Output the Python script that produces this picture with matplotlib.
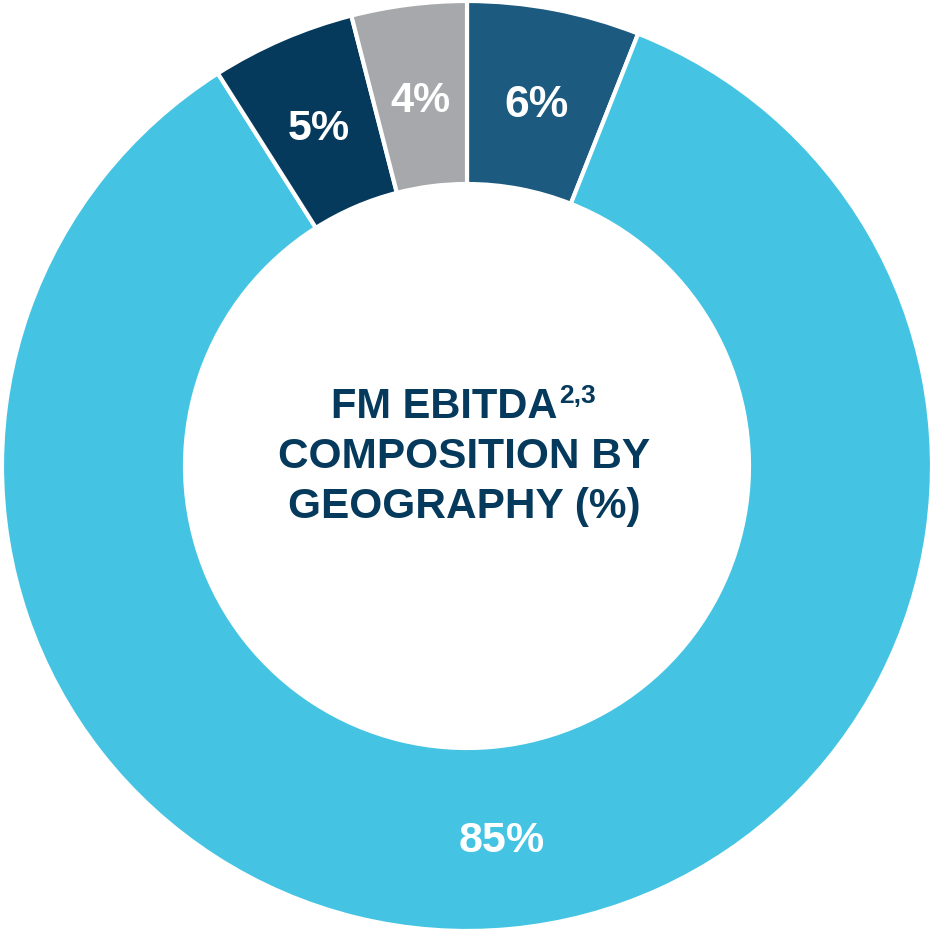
import matplotlib
matplotlib.use("Agg")
import matplotlib.pyplot as plt

plt.rcParams['font.family'] = ['Liberation Sans', 'DejaVu Sans']

# EBITDA share by geography, clockwise from 12 o'clock
regions = ["Region A", "Region B", "Region C", "Region D"]
shares = [6, 85, 5, 4]
colors = ["#1C5A80", "#44C4E2", "#053A5C", "#A7A8AB"]
label_sizes = [32, 31, 31, 30]

title_lines = ["COMPOSITION BY", "GEOGRAPHY (%)"]
title_head = "FM EBITDA"
title_sup = "2,3"
navy = "#053A5C"

W, H = 943, 931
cx, cy, R = 467, 466, 465

fig = plt.figure(figsize=(W / 100, H / 100), dpi=100)
ax = fig.add_axes([0, 0, 1, 1])

wedges, texts, autotexts = ax.pie(
    shares, colors=colors, startangle=90, counterclock=False, radius=1.0,
    wedgeprops=dict(width=1 - 282 / R, edgecolor="white", linewidth=3),
    autopct=lambda p: f"{round(p)}%", pctdistance=0.80,
)
for t, s in zip(autotexts, label_sizes):
    t.set_color("white")
    t.set_fontsize(s)
    t.set_fontweight("bold")
    t.set_ha("center")
    t.set_va("center_baseline")

# place the ring so the figure is filled edge to edge
ax.set_aspect("auto")
ax.set_xlim(-cx / R, (W - cx) / R)
ax.set_ylim(-(H - cy) / R, cy / R)
ax.axis("off")

def fx(px):
    return px / W

def fy(py):
    return 1 - py / H

fig.text(fx(557), fy(418), title_head, ha="right", va="baseline",
         fontsize=30, fontweight="bold", color=navy)
fig.text(fx(559), fy(403), title_sup, ha="left", va="baseline",
         fontsize=19, fontweight="bold", color=navy)
for i, line in enumerate(title_lines):
    fig.text(fx(464), fy(468 + 50 * i), line, ha="center", va="baseline",
             fontsize=30.5, fontweight="bold", color=navy)

fig.savefig("out.png", dpi=100, facecolor="white")
